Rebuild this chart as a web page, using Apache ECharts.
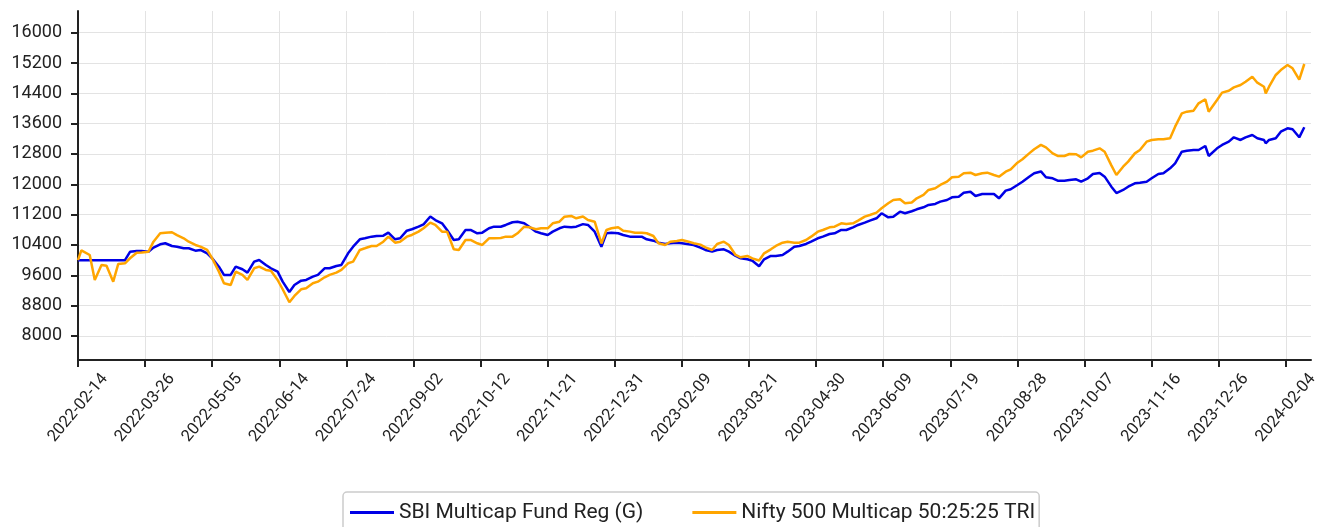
<!DOCTYPE html>
<html>
<head>
<meta charset="utf-8">
<script src="https://cdn.jsdelivr.net/npm/echarts@6/dist/echarts.min.js"></script>
<style>
  html, body { margin: 0; padding: 0; background: #fff; }
  #chart { width: 1323px; height: 527px; }
</style>
</head>
<body>
<div id="chart"></div>
<script>
const dates = [
  '2022-02-14', '2022-02-16', '2022-02-21', '2022-02-24', '2022-02-28', '2022-03-03', '2022-03-07', '2022-03-10',
  '2022-03-14', '2022-03-17', '2022-03-21', '2022-03-24', '2022-03-28', '2022-03-31', '2022-04-04', '2022-04-07',
  '2022-04-11', '2022-04-14', '2022-04-18', '2022-04-21', '2022-04-25', '2022-04-28', '2022-05-02', '2022-05-05',
  '2022-05-09', '2022-05-12', '2022-05-16', '2022-05-19', '2022-05-23', '2022-05-26', '2022-05-30', '2022-06-02',
  '2022-06-06', '2022-06-09', '2022-06-13', '2022-06-16', '2022-06-20', '2022-06-23', '2022-06-27', '2022-06-30',
  '2022-07-04', '2022-07-07', '2022-07-11', '2022-07-14', '2022-07-18', '2022-07-21', '2022-07-25', '2022-07-28',
  '2022-08-01', '2022-08-04', '2022-08-08', '2022-08-11', '2022-08-15', '2022-08-18', '2022-08-22', '2022-08-25',
  '2022-08-29', '2022-09-01', '2022-09-05', '2022-09-08', '2022-09-12', '2022-09-15', '2022-09-19', '2022-09-22',
  '2022-09-26', '2022-09-29', '2022-10-03', '2022-10-06', '2022-10-10', '2022-10-13', '2022-10-17', '2022-10-20',
  '2022-10-24', '2022-10-27', '2022-10-31', '2022-11-03', '2022-11-07', '2022-11-10', '2022-11-14', '2022-11-17',
  '2022-11-21', '2022-11-24', '2022-11-28', '2022-12-01', '2022-12-05', '2022-12-08', '2022-12-12', '2022-12-15',
  '2022-12-19', '2022-12-23', '2022-12-26', '2022-12-29', '2023-01-02', '2023-01-05', '2023-01-09', '2023-01-12',
  '2023-01-16', '2023-01-19', '2023-01-23', '2023-01-26', '2023-01-30', '2023-02-02', '2023-02-06', '2023-02-09',
  '2023-02-13', '2023-02-16', '2023-02-20', '2023-02-23', '2023-02-27', '2023-03-02', '2023-03-06', '2023-03-09',
  '2023-03-13', '2023-03-16', '2023-03-20', '2023-03-23', '2023-03-27', '2023-03-30', '2023-04-03', '2023-04-06',
  '2023-04-10', '2023-04-13', '2023-04-17', '2023-04-20', '2023-04-24', '2023-04-27', '2023-05-01', '2023-05-04',
  '2023-05-08', '2023-05-11', '2023-05-15', '2023-05-18', '2023-05-22', '2023-05-25', '2023-05-29', '2023-06-01',
  '2023-06-05', '2023-06-08', '2023-06-12', '2023-06-15', '2023-06-19', '2023-06-22', '2023-06-26', '2023-06-29',
  '2023-07-03', '2023-07-06', '2023-07-10', '2023-07-13', '2023-07-17', '2023-07-20', '2023-07-24', '2023-07-27',
  '2023-07-31', '2023-08-03', '2023-08-07', '2023-08-10', '2023-08-14', '2023-08-17', '2023-08-21', '2023-08-24',
  '2023-08-28', '2023-08-31', '2023-09-04', '2023-09-07', '2023-09-11', '2023-09-14', '2023-09-18', '2023-09-21',
  '2023-09-25', '2023-09-28', '2023-10-02', '2023-10-05', '2023-10-09', '2023-10-12', '2023-10-16', '2023-10-19',
  '2023-10-23', '2023-10-26', '2023-10-30', '2023-11-02', '2023-11-06', '2023-11-09', '2023-11-13', '2023-11-16',
  '2023-11-20', '2023-11-23', '2023-11-27', '2023-11-30', '2023-12-04', '2023-12-07', '2023-12-11', '2023-12-14',
  '2023-12-18', '2023-12-20', '2023-12-25', '2023-12-28', '2024-01-01', '2024-01-04', '2024-01-08', '2024-01-11',
  '2024-01-15', '2024-01-18', '2024-01-22', '2024-01-23', '2024-01-25', '2024-01-29', '2024-02-01', '2024-02-05',
  '2024-02-08', '2024-02-12', '2024-02-15'
];

const sbiValues = [
  10000, 10000, 10000, 10000, 10000, 10000, 10000, 10000,
  10000, 10220, 10242, 10242, 10224, 10330, 10418, 10445,
  10374, 10355, 10313, 10313, 10250, 10268, 10180, 10048,
  9828, 9610, 9610, 9828, 9759, 9670, 9960, 10005,
  9873, 9785, 9696, 9432, 9160, 9345, 9459, 9477,
  9565, 9610, 9785, 9785, 9846, 9873, 10180, 10355,
  10550, 10577, 10620, 10637, 10646, 10725, 10550, 10577,
  10777, 10814, 10883, 10945, 11150, 11058, 10972, 10796,
  10532, 10550, 10796, 10796, 10709, 10725, 10840, 10883,
  10880, 10928, 10999, 11015, 10972, 10883, 10752, 10709,
  10664, 10752, 10840, 10883, 10866, 10883, 10950, 10928,
  10752, 10355, 10709, 10725, 10709, 10664, 10620, 10620,
  10620, 10550, 10514, 10461, 10427, 10445, 10461, 10445,
  10418, 10400, 10330, 10268, 10224, 10268, 10286, 10224,
  10110, 10048, 10022, 9986, 9840, 10022, 10110, 10110,
  10136, 10224, 10355, 10374, 10427, 10487, 10577, 10620,
  10690, 10709, 10796, 10796, 10866, 10928, 10988, 11041,
  11104, 11236, 11130, 11147, 11279, 11236, 11290, 11341,
  11394, 11455, 11482, 11543, 11587, 11658, 11675, 11780,
  11806, 11693, 11745, 11745, 11745, 11631, 11833, 11869,
  11983, 12070, 12202, 12291, 12340, 12185, 12159, 12096,
  12096, 12115, 12133, 12070, 12159, 12273, 12300, 12202,
  11938, 11770, 11851, 11938, 12027, 12043, 12070, 12159,
  12273, 12291, 12423, 12554, 12861, 12888, 12906, 12906,
  13011, 12748, 12950, 13038, 13125, 13240, 13170, 13240,
  13302, 13214, 13170, 13082, 13170, 13214, 13390, 13478,
  13451, 13240, 13504
];

const niftyValues = [
  10000, 10260, 10136, 9477, 9870, 9850, 9432, 9900,
  9917, 10050, 10197, 10200, 10224, 10487, 10709, 10725,
  10735, 10660, 10577, 10487, 10400, 10355, 10268, 10048,
  9696, 9390, 9345, 9696, 9610, 9477, 9785, 9828,
  9741, 9720, 9477, 9232, 8890, 9055, 9232, 9257,
  9390, 9432, 9548, 9610, 9670, 9741, 9917, 9960,
  10268, 10313, 10374, 10374, 10487, 10620, 10461, 10487,
  10620, 10664, 10752, 10840, 10990, 10928, 10752, 10752,
  10286, 10268, 10532, 10532, 10445, 10400, 10577, 10577,
  10585, 10620, 10620, 10709, 10883, 10866, 10814, 10840,
  10840, 10972, 11015, 11147, 11165, 11104, 11150, 11058,
  11015, 10440, 10796, 10840, 10866, 10777, 10752, 10725,
  10725, 10709, 10637, 10445, 10400, 10487, 10505, 10532,
  10487, 10445, 10410, 10339, 10268, 10427, 10487, 10400,
  10136, 10075, 10110, 10048, 9990, 10180, 10286, 10374,
  10461, 10487, 10461, 10461, 10532, 10620, 10752, 10796,
  10866, 10883, 10972, 10954, 10972, 11041, 11147, 11190,
  11253, 11368, 11500, 11587, 11605, 11500, 11520, 11631,
  11719, 11851, 11895, 11983, 12070, 12185, 12202, 12291,
  12308, 12246, 12291, 12308, 12246, 12202, 12334, 12396,
  12571, 12660, 12817, 12924, 13040, 12976, 12817, 12748,
  12748, 12800, 12792, 12712, 12861, 12888, 12950, 12861,
  12500, 12246, 12466, 12598, 12817, 12906, 13125, 13170,
  13188, 13188, 13214, 13521, 13873, 13917, 13943, 14137,
  14243, 13917, 14225, 14418, 14470, 14558, 14620, 14707,
  14839, 14681, 14575, 14400, 14575, 14884, 15015, 15148,
  15060, 14760, 15174
];

const xTickDates = [
  '2022-02-14', '2022-03-26', '2022-05-05', '2022-06-14', '2022-07-24', '2022-09-02', '2022-10-12',
  '2022-11-21', '2022-12-31', '2023-02-09', '2023-03-21', '2023-04-30', '2023-06-09', '2023-07-19',
  '2023-08-28', '2023-10-07', '2023-11-16', '2023-12-26', '2024-02-04'
];

const yTicks = [8000, 8800, 9600, 10400, 11200, 12000, 12800, 13600, 14400, 15200, 16000];

const seriesNames = ['SBI Multicap Fund Reg (G)', 'Nifty 500 Multicap 50:25:25 TRI'];

const startMs = Date.parse(dates[0]);
function dayOf(d) {
  return Math.round((Date.parse(d) - startMs) / 86400000);
}
const xTickValues = xTickDates.map(dayOf);

const axisColor = '#222';
const gridColor = '#e3e3e3';

const chart = echarts.init(document.getElementById('chart'));
chart.setOption({
  animation: false,
  backgroundColor: '#fff',
  textStyle: { fontFamily: 'Roboto' },
  grid: { left: 78, right: 12, top: 11, bottom: 167, containLabel: false },
  legend: {
    data: seriesNames,
    left: 343,
    top: 492,
    padding: [10, 4, 10, 7],
    itemGap: 49,
    itemWidth: 44,
    itemHeight: 3,
    icon: 'rect',
    borderColor: '#cccccc',
    borderWidth: 1.5,
    borderRadius: 4,
    backgroundColor: '#fff',
    textStyle: { fontSize: 21, color: '#222', fontFamily: 'Roboto' }
  },
  xAxis: {
    type: 'value',
    min: 0,
    max: 735,
    axisLine: { lineStyle: { color: axisColor, width: 2 } },
    axisTick: { customValues: xTickValues, length: 7, lineStyle: { color: axisColor, width: 2 } },
    axisLabel: {
      customValues: xTickValues,
      formatter: function (v) {
        const i = xTickValues.indexOf(Math.round(v));
        return i >= 0 ? xTickDates[i] : '';
      },
      rotate: 50,
      align: 'center',
      verticalAlign: 'middle',
      margin: 48,
      fontSize: 16.5,
      color: axisColor
    },
    splitLine: { show: true, lineStyle: { color: gridColor, width: 1 } }
  },
  yAxis: {
    type: 'value',
    min: 7366,
    max: 16572,
    axisLine: { show: true, lineStyle: { color: axisColor, width: 2 } },
    axisTick: { show: true, customValues: yTicks, length: 7, lineStyle: { color: axisColor, width: 2 } },
    axisLabel: {
      customValues: yTicks,
      formatter: function (v) { return String(v); },
      margin: 16,
      fontSize: 18,
      color: axisColor
    },
    splitLine: { show: true, lineStyle: { color: gridColor, width: 1 } }
  },
  series: [
    {
      name: seriesNames[0],
      type: 'line',
      symbol: 'none',
      color: '#0000e6',
      lineStyle: { width: 2.5 },
      data: dates.map(function (d, i) { return [dayOf(d), sbiValues[i]]; })
    },
    {
      name: seriesNames[1],
      type: 'line',
      symbol: 'none',
      color: '#ffa500',
      lineStyle: { width: 2.5 },
      data: dates.map(function (d, i) { return [dayOf(d), niftyValues[i]]; })
    }
  ]
});
</script>
</body>
</html>
